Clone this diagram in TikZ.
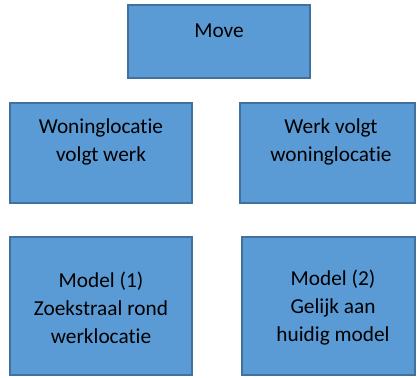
\documentclass[tikz,border=0pt]{standalone}
\usepackage{fontspec}
\setmainfont{Carlito}[Ligatures=NoCommon]
\definecolor{boxfill}{HTML}{5B9BD5}
\definecolor{boxline}{HTML}{41719C}
\begin{document}
\begin{tikzpicture}[x=1pt,y=-1pt,
  blk/.style={draw=boxline,fill=boxfill,line width=1.5pt,rectangle,inner sep=0pt},
  txt/.style={font=\fontsize{21.3}{28}\selectfont,align=center,inner sep=0pt,text=black}]
\useasboundingbox (0,0) rectangle (417,377);
\node[blk,minimum width=182pt,minimum height=73pt] (move) at (219,41.5) {};
\node[blk,minimum width=182pt,minimum height=100pt] (l2) at (101,153) {};
\node[blk,minimum width=175pt,minimum height=100pt] (r2) at (327.5,153) {};
\node[blk,minimum width=182pt,minimum height=138pt] (l3) at (101,306) {};
\node[blk,minimum width=173pt,minimum height=138pt] (r3) at (328.5,306) {};
\node[txt] (tmove) at (219,31) {Move};
\node[txt] (tl2) at (101,142) {Woninglocatie\\volgt werk};
\node[txt] (tr2) at (331,142) {Werk volgt\\woninglocatie};
\node[txt] (tl3) at (101,308) {Model (1)\\Zoekstraal rond\\werklocatie};
\node[txt] (tr3) at (333,308) {Model (2)\\Gelijk aan\\huidig model};
\end{tikzpicture}
\end{document}
